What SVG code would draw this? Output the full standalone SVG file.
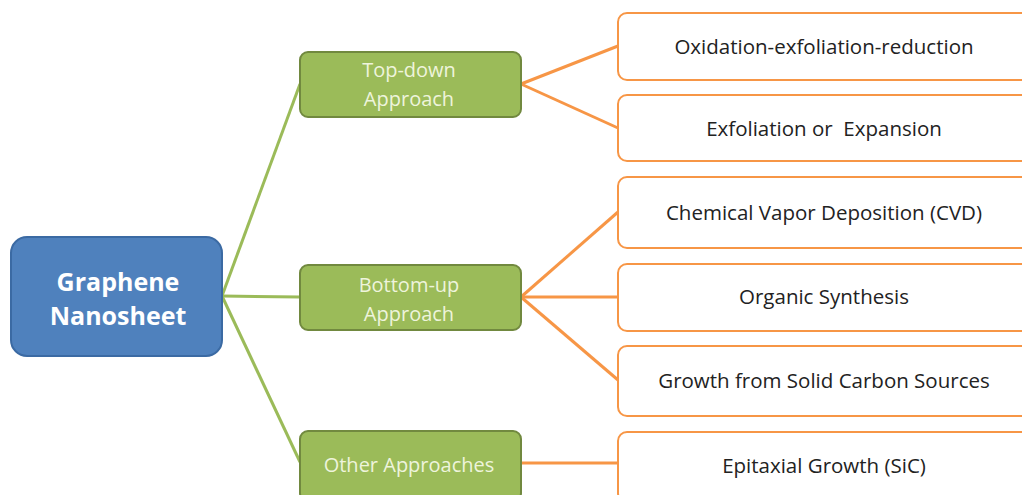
<svg xmlns="http://www.w3.org/2000/svg" width="1022" height="495" viewBox="0 0 1022 495">
<style>
.root{fill:#4f81bd;stroke:#3b6aa3;stroke-width:2}
.mid{fill:#9bbb59;stroke:#71893f;stroke-width:2}
.leaf{fill:#ffffff;stroke:#f79646;stroke-width:2}
.gl{stroke:#9bbb59;stroke-width:3;fill:none}
.ol{stroke:#f79646;stroke-width:3;fill:none}
.rt{font-family:"Open Sans",sans-serif;font-weight:bold;font-size:25px;fill:#ffffff;text-anchor:middle}
.mt{font-family:"Open Sans",sans-serif;font-size:20px;fill:#eef4dc;text-anchor:middle}
.lt{font-family:"Open Sans",sans-serif;font-size:20.5px;fill:#222222;text-anchor:middle}
</style>
<rect width="1022" height="495" fill="#ffffff"/>
<g id="connectors">
<line class="gl" x1="222" y1="296" x2="300" y2="84"/>
<line class="gl" x1="222" y1="296" x2="300" y2="297"/>
<line class="gl" x1="222" y1="296" x2="300" y2="462"/>
<line class="ol" x1="521" y1="84" x2="618" y2="46"/>
<line class="ol" x1="521" y1="84" x2="618" y2="128"/>
<line class="ol" x1="521" y1="297" x2="618" y2="212"/>
<line class="ol" x1="521" y1="297" x2="618" y2="297"/>
<line class="ol" x1="521" y1="297" x2="618" y2="380"/>
<line class="ol" x1="521" y1="463" x2="618" y2="463"/>
</g>
<g id="graphene">
<rect class="root" x="11" y="237" width="211" height="119" rx="16"/>
<text class="rt" x="118" y="291">Graphene</text>
<text class="rt" x="118" y="325">Nanosheet</text>
</g>
<g id="topdown">
<rect class="mid" x="300" y="52" width="221" height="65" rx="8"/>
<text class="mt" x="409" y="77">Top-down</text>
<text class="mt" x="409" y="106">Approach</text>
</g>
<g id="bottomup">
<rect class="mid" x="300" y="265" width="221" height="65" rx="8"/>
<text class="mt" x="409" y="292">Bottom-up</text>
<text class="mt" x="409" y="321">Approach</text>
</g>
<g id="other">
<rect class="mid" x="300" y="431" width="221" height="70" rx="8"/>
<text class="mt" x="409" y="472">Other Approaches</text>
</g>
<g id="oxidation">
<rect class="leaf" x="618" y="13" width="412" height="67" rx="9"/>
<text class="lt" x="824" y="54">Oxidation-exfoliation-reduction</text>
</g>
<g id="exfoliation">
<rect class="leaf" x="618" y="95" width="412" height="66" rx="9"/>
<text class="lt" x="824" y="136" xml:space="preserve">Exfoliation or  Expansion</text>
</g>
<g id="cvd">
<rect class="leaf" x="618" y="177" width="412" height="71" rx="9"/>
<text class="lt" x="824" y="220">Chemical Vapor Deposition (CVD)</text>
</g>
<g id="organic">
<rect class="leaf" x="618" y="264" width="412" height="67" rx="9"/>
<text class="lt" x="824" y="304">Organic Synthesis</text>
</g>
<g id="solid">
<rect class="leaf" x="618" y="346" width="412" height="70" rx="9"/>
<text class="lt" x="824" y="388">Growth from Solid Carbon Sources</text>
</g>
<g id="epitaxial">
<rect class="leaf" x="618" y="432" width="412" height="70" rx="9"/>
<text class="lt" x="824" y="473">Epitaxial Growth (SiC)</text>
</g>
</svg>
